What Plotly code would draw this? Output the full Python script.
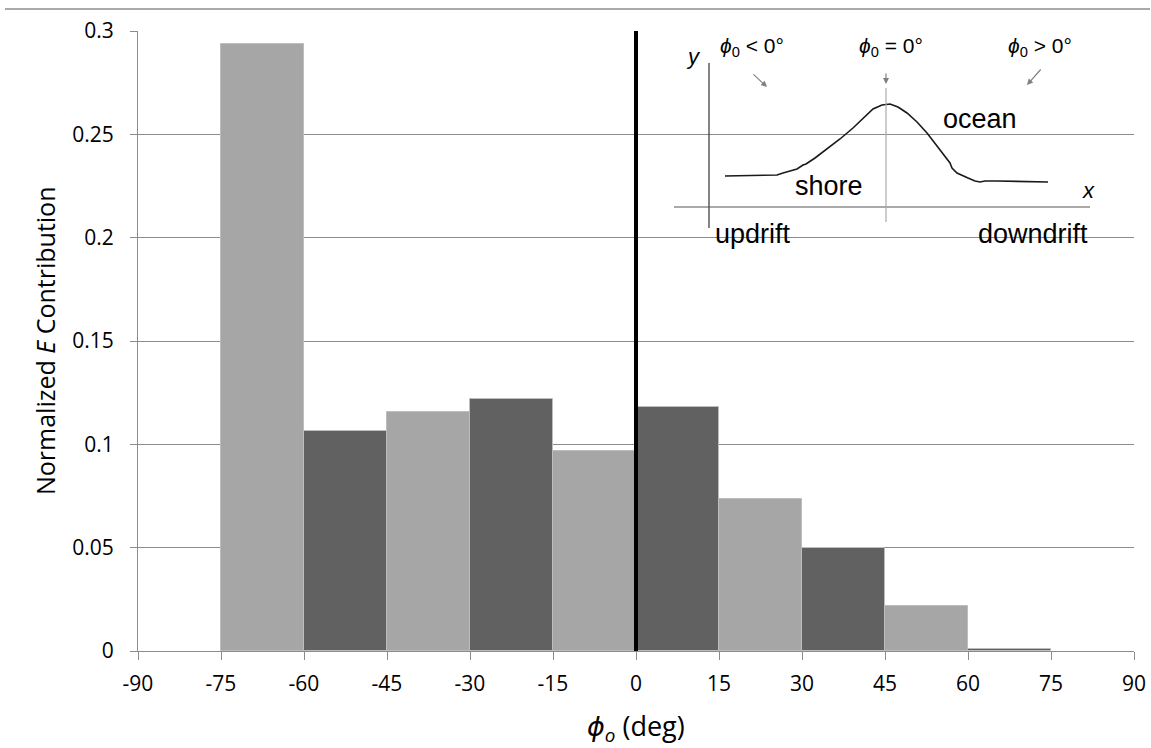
import plotly.graph_objects as go

# ---- data ----
bin_left = [-75, -60, -45, -30, -15, 0, 15, 30, 45, 60]
values = [0.2937, 0.1065, 0.1157, 0.1219, 0.0968, 0.1180, 0.0735, 0.0498, 0.0218, 0.0010]
bin_width = 15
x_ticks = [-90, -75, -60, -45, -30, -15, 0, 15, 30, 45, 60, 75, 90]
y_ticks = [0, 0.05, 0.1, 0.15, 0.2, 0.25, 0.3]
y_tick_text = ["0", "0.05", "0.1", "0.15", "0.2", "0.25", "0.3"]

LIGHT = "#a6a6a6"
DARK = "#616161"
colors = [LIGHT if i % 2 == 0 else DARK for i in range(len(values))]
centers = [b + bin_width / 2 for b in bin_left]

# inset schematic (pixel coordinates of the inset drawing)
curve_x = [725, 777, 783, 790, 797, 803, 806, 815, 827, 840, 853, 863, 873, 882, 890, 898, 907, 917, 927, 937, 947, 950, 952, 957, 968, 975, 980, 985, 997, 1048]
curve_y = [176, 175, 173, 171, 169, 165, 164, 158, 149, 139, 128, 118, 109, 105, 104, 107, 113, 122, 133, 146, 160, 163, 168, 173, 178, 181, 182, 181, 181, 182]

fig = go.Figure()

fig.add_trace(go.Bar(
    x=centers, y=values, width=bin_width,
    marker=dict(color=colors, line=dict(color="#bdbdbd", width=1)),
    showlegend=False, hoverinfo="skip",
))

# inset drawing on overlay axes in pixel units
W, H = 1151, 748
L, R, T, B = 138, 17, 31, 97
fig.add_trace(go.Scatter(x=curve_x, y=curve_y, mode="lines", xaxis="x2", yaxis="y2",
                         line=dict(color="#1a1a1a", width=1.6), showlegend=False, hoverinfo="skip"))
fig.add_trace(go.Scatter(x=[709, 709], y=[63, 228], mode="lines", xaxis="x2", yaxis="y2",
                         line=dict(color="#333333", width=1.2), showlegend=False, hoverinfo="skip"))
fig.add_trace(go.Scatter(x=[674, 1090], y=[207, 207], mode="lines", xaxis="x2", yaxis="y2",
                         line=dict(color="#555555", width=1.2), showlegend=False, hoverinfo="skip"))
fig.add_trace(go.Scatter(x=[886, 886], y=[88, 222], mode="lines", xaxis="x2", yaxis="y2",
                         line=dict(color="#aaaaaa", width=1.2), showlegend=False, hoverinfo="skip"))

fig.update_layout(
    width=W, height=H,
    margin=dict(l=L, r=R, t=T, b=B, autoexpand=False),
    plot_bgcolor="white", paper_bgcolor="white",
    bargap=0,
    font=dict(family="Open Sans, DejaVu Sans, sans-serif", color="black", size=18),
    xaxis=dict(range=[-90, 90], tickvals=x_ticks, ticktext=[str(v) for v in x_ticks],
               showgrid=False, zeroline=False, showline=True, linecolor="#8c8c8c", linewidth=1,
               ticks="outside", ticklen=8, tickcolor="#8c8c8c", tickfont=dict(size=21),
               ticklabelstandoff=6, automargin=False),
    yaxis=dict(range=[0, 0.3], tickvals=y_ticks, ticktext=y_tick_text,
               showgrid=True, gridcolor="#8c8c8c", gridwidth=1, zeroline=False,
               showline=True, linecolor="#8c8c8c", linewidth=1,
               ticks="outside", ticklen=7, tickcolor="#8c8c8c", tickfont=dict(size=21),
               ticklabelstandoff=12, automargin=False),
    xaxis2=dict(overlaying="x", range=[L, W - R], visible=False, domain=[0, 1], automargin=False),
    yaxis2=dict(overlaying="y", range=[H - B, T], visible=False, automargin=False),
)

# top separator line
fig.add_shape(type="line", xref="paper", yref="paper",
              x0=(5 - L) / (W - L - R), x1=(1150 - L) / (W - L - R),
              y0=(H - B - 9) / (H - B - T), y1=(H - B - 9) / (H - B - T),
              line=dict(color="#8c8c8c", width=1.5))
# thick black line at zero
fig.add_shape(type="line", xref="x", yref="y", x0=0, x1=0, y0=-0.005, y1=0.3,
              line=dict(color="black", width=4))

# axis titles
fig.add_annotation(text="<i>ϕ<sub>o</sub></i> (deg)", xref="x", yref="paper", x=0,
                   y=-(727 - (H - B)) / (H - B - T), showarrow=False, font=dict(size=27),
                   xanchor="center", yanchor="middle")
fig.add_annotation(text="Normalized <i>E</i> Contribution", xref="paper", yref="paper",
                   x=-(L - 45) / (W - L - R), y=0.5, textangle=-90, showarrow=False,
                   font=dict(size=25), xanchor="center", yanchor="middle")

def ann(text, x, y, size=27, xanchor="center"):
    fig.add_annotation(text=text, xref="x2", yref="y2", x=x, y=y, showarrow=False,
                       font=dict(size=size, family="Liberation Sans, Arial, sans-serif"),
                       xanchor=xanchor, yanchor="middle")

ann("<i>y</i>", 693, 56, size=22)
ann("<i>x</i>", 1088, 190, size=22)
ann("updrift", 713, 234, xanchor="left")
ann("downdrift", 1090, 234, xanchor="right")
ann("shore", 829, 186)
ann("ocean", 980, 119)
ann("<i>ϕ</i><sub>0</sub> &lt; 0°", 752, 47, size=21)
ann("<i>ϕ</i><sub>0</sub> = 0°", 891, 47, size=21)
ann("<i>ϕ</i><sub>0</sub> &gt; 0°", 1040, 47, size=21)

def arrow(x0, y0, x1, y1):
    fig.add_annotation(xref="x2", yref="y2", axref="x2", ayref="y2",
                       x=x1, y=y1, ax=x0, ay=y0, text="", showarrow=True,
                       arrowhead=2, arrowsize=1, arrowwidth=1.2, arrowcolor="#808080")

arrow(752, 73, 767, 87)
arrow(886, 72, 886, 84)
arrow(1042, 68, 1027, 85)

fig.write_html("out.html", config={"displayModeBar": False},
               post_script="document.body.style.margin='0px';document.body.style.overflow='hidden';")
